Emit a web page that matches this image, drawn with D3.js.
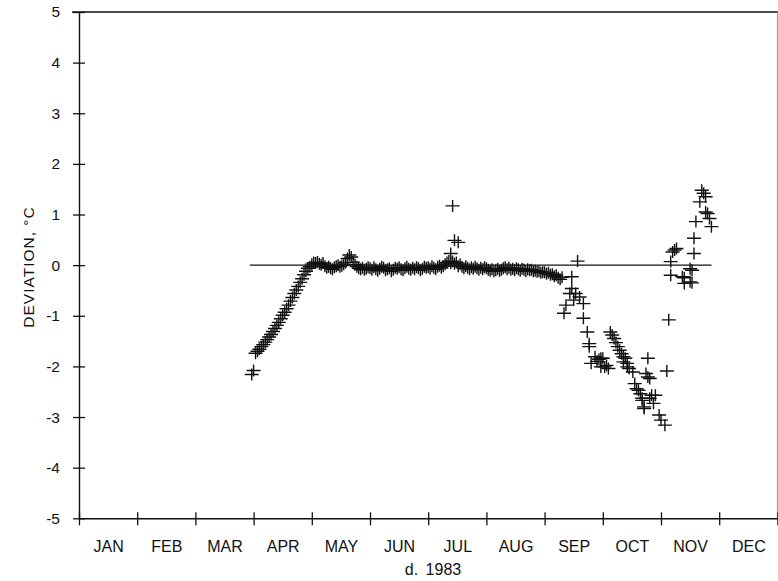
<!DOCTYPE html>
<html>
<head>
<meta charset="utf-8">
<script src="https://cdn.jsdelivr.net/npm/d3@7"></script>
<style>
  html, body { margin: 0; padding: 0; background: #fff; }
  svg { display: block; }
  text { font-family: "Liberation Sans", Arial, Helvetica, sans-serif; fill: #111; }
</style>
</head>
<body>
<svg id="chart" width="778" height="581"></svg>
<script>
// Month axis
const monthLabels = ["JAN", "FEB", "MAR", "APR", "MAY", "JUN", "JUL", "AUG", "SEP", "OCT", "NOV", "DEC"];
const monthLengths = [31, 28, 31, 30, 31, 30, 31, 31, 30, 31, 30, 31];
const yTicks = [-5, -4, -3, -2, -1, 0, 1, 2, 3, 4, 5];
const xTitle = "d. 1983";
const yTitle = "DEVIATION, °C";

// Daily deviations, [day of month, °C]
const mar = [[31, -2.16]];
const apr = [[1, -2.08], [2, -1.74], [3, -1.70], [4, -1.66], [5, -1.61], [6, -1.57], [7, -1.52], [8, -1.47],
  [9, -1.42], [10, -1.37], [11, -1.31], [12, -1.25], [13, -1.19], [14, -1.13], [15, -1.06], [16, -0.99],
  [17, -0.93], [18, -0.86], [19, -0.79], [20, -0.71], [21, -0.64], [22, -0.56], [23, -0.49], [24, -0.42],
  [25, -0.34], [26, -0.27], [27, -0.19], [28, -0.12], [29, -0.06], [30, -0.03]];
const may = [[1, 0.02], [2, 0.05], [3, 0.04], [4, 0.06], [5, 0.03], [6, 0.01], [7, 0.04], [8, -0.02],
  [9, -0.05], [10, -0.03], [11, -0.06], [12, -0.08], [13, -0.04], [14, -0.02], [15, 0.00], [16, -0.03],
  [17, -0.01], [18, 0.02], [19, 0.05], [20, 0.13], [21, 0.20], [22, 0.16], [23, 0.06], [24, 0.01],
  [25, -0.03], [26, -0.06], [27, -0.08], [28, -0.05], [29, -0.09], [30, -0.07], [31, -0.04]];
const jun = [[1, -0.06], [2, -0.09], [3, -0.04], [4, -0.08], [5, -0.11], [6, -0.07], [7, -0.03], [8, -0.05],
  [9, -0.10], [10, -0.08], [11, -0.06], [12, -0.12], [13, -0.09], [14, -0.05], [15, -0.07], [16, -0.04],
  [17, -0.08], [18, -0.10], [19, -0.06], [20, -0.03], [21, -0.07], [22, -0.09], [23, -0.05], [24, -0.08],
  [25, -0.04], [26, -0.06], [27, -0.10], [28, -0.07], [29, -0.03], [30, -0.05]];
const jul = [[1, -0.04], [2, -0.07], [3, -0.02], [4, -0.05], [5, -0.08], [6, -0.03], [7, -0.01], [8, -0.05],
  [9, -0.02], [10, 0.02], [11, 0.05], [12, 0.08], [13, 0.23], [13, 0.04], [14, 1.17], [14, 0.07],
  [15, 0.49], [15, 0.03], [16, 0.05], [17, 0.45], [17, -0.02], [18, 0.02], [19, -0.03], [20, -0.06],
  [21, -0.02], [22, -0.05], [23, -0.08], [24, -0.04], [25, -0.07], [26, -0.03], [27, -0.06], [28, -0.09],
  [29, -0.05], [30, -0.08], [31, -0.04]];
const aug = [[1, -0.06], [2, -0.09], [3, -0.11], [4, -0.08], [5, -0.12], [6, -0.10], [7, -0.07], [8, -0.11],
  [9, -0.09], [10, -0.06], [11, -0.04], [12, -0.08], [13, -0.05], [14, -0.09], [15, -0.07], [16, -0.10],
  [17, -0.06], [18, -0.08], [19, -0.11], [20, -0.07], [21, -0.09], [22, -0.12], [23, -0.08], [24, -0.10],
  [25, -0.09], [26, -0.12], [27, -0.11], [28, -0.13], [29, -0.12], [30, -0.15], [31, -0.14]];
const sep = [[1, -0.14], [2, -0.17], [3, -0.15], [4, -0.19], [5, -0.18], [6, -0.22], [7, -0.20], [8, -0.25],
  [9, -0.28], [10, -0.24], [11, -0.95], [12, -0.79], [14, -0.56], [15, -0.23], [15, -0.46], [16, -0.69],
  [17, -0.56], [18, 0.08], [19, -0.63], [21, -0.76], [21, -1.05], [23, -1.32], [24, -1.61], [24, -1.55],
  [25, -1.94], [27, -1.81], [28, -1.90], [29, -1.86], [30, -1.84], [30, -2.01]];
const oct = [[1, -1.84], [2, -2.01], [3, -1.98], [4, -2.04], [5, -1.32], [6, -1.38], [7, -1.45], [8, -1.53],
  [9, -1.61], [10, -1.68], [11, -1.75], [12, -1.81], [12, -1.91], [13, -1.84], [14, -1.94], [14, -2.01],
  [15, -2.04], [17, -2.11], [18, -2.34], [19, -2.44], [20, -2.47], [21, -2.54], [22, -2.67], [22, -2.63],
  [23, -2.80], [23, -2.83], [24, -2.14], [25, -2.21], [25, -1.84], [26, -2.24], [26, -2.63], [27, -2.57],
  [28, -2.73], [29, -2.57], [31, -2.96]];
const nov = [[1, -3.06], [3, -3.16], [4, -2.09], [5, -1.08], [6, -0.20], [6, 0.07], [7, 0.26], [8, 0.30],
  [9, 0.33], [12, -0.23], [13, -0.25], [13, -0.36], [16, -0.07], [16, -0.33], [17, -0.10], [17, -0.35],
  [18, 0.23], [18, 0.53], [19, 0.86], [21, 1.25], [22, 1.48], [23, 1.42], [24, 1.35], [24, 1.05],
  [25, 1.02], [26, 0.92], [27, 0.76]];

// Zero-deviation reference line: [month, day] span
const refStart = [3, 30];
const refEnd = [11, 27];
const refValue = 0;

// ---- drawing ----
const monthsData = [[3, mar], [4, apr], [5, may], [6, jun], [7, jul], [8, aug], [9, sep], [10, oct], [11, nov]];
const monthPos = (m, d) => (m - 1) + (d - 1) / monthLengths[m - 1];

const points = [];
monthsData.forEach(([m, arr]) => arr.forEach(([d, v]) => points.push({ t: monthPos(m, d), v })));

const plotLeft = 79, plotRight = 777.4, plotTop = 12, plotBottom = 518.3;
const x = d3.scaleLinear().domain([0, 12]).range([plotLeft, plotRight]);
const y = d3.scaleLinear().domain([-5, 5]).range([plotBottom, plotTop]);

const svg = d3.select("#chart");
const ink = "#111";
const fontStack = '"Liberation Sans", Arial, sans-serif';

// frame: top and right edges
svg.append("line").attr("x1", plotLeft - 7).attr("x2", 778).attr("y1", plotTop).attr("y2", plotTop)
  .attr("stroke", ink).attr("stroke-width", 1.3);
svg.append("line").attr("x1", plotRight).attr("x2", plotRight).attr("y1", plotTop).attr("y2", plotBottom)
  .attr("stroke", "#999").attr("stroke-width", 1);

// y axis (plain hyphen for negatives)
const yAxis = svg.append("g").attr("transform", `translate(${plotLeft},0)`)
  .call(d3.axisLeft(y).tickValues(yTicks).tickFormat(d => String(d))
    .tickSize(6).tickSizeOuter(0).tickPadding(13));
yAxis.select(".domain").attr("stroke", ink).attr("stroke-width", 1.4);
yAxis.selectAll(".tick line").attr("x1", -6).attr("x2", 6).attr("stroke", ink).attr("stroke-width", 1.3);
yAxis.selectAll(".tick text").attr("font-size", 15.5).attr("fill", ink)
  .style("font-family", fontStack);

// x axis: month boundaries
const xAxis = svg.append("g").attr("transform", `translate(0,${plotBottom})`)
  .call(d3.axisBottom(x).tickValues(d3.range(0, 13)).tickSize(7).tickSizeOuter(0).tickFormat(""));
xAxis.select(".domain").attr("stroke", ink).attr("stroke-width", 1.4);
xAxis.selectAll(".tick line").attr("y1", -6).attr("y2", 7).attr("stroke", ink).attr("stroke-width", 1.3);

// month labels centred between boundaries
const labelAxis = svg.append("g").attr("transform", `translate(0,${plotBottom})`)
  .call(d3.axisBottom(x).tickValues(monthLabels.map((_, i) => i + 0.5))
    .tickFormat((d, i) => monthLabels[i]).tickSize(0).tickPadding(22));
labelAxis.select(".domain").remove();
labelAxis.selectAll(".tick text").attr("font-size", 16).attr("fill", ink)
  .style("font-family", fontStack);

// axis titles
svg.append("text").attr("x", 433).attr("y", 575).attr("text-anchor", "middle")
  .attr("font-size", 16).attr("word-spacing", 3).text(xTitle);
svg.append("text").attr("transform", "translate(34,267) rotate(-90)").attr("text-anchor", "middle")
  .attr("font-size", 15.5).attr("letter-spacing", 1).text(yTitle);

// zero reference line
svg.append("line")
  .attr("x1", x(monthPos(...refStart))).attr("x2", x(monthPos(...refEnd)))
  .attr("y1", y(refValue)).attr("y2", y(refValue))
  .attr("stroke", ink).attr("stroke-width", 1.3);

// plus markers
svg.append("g").selectAll("path").data(points).join("path")
  .attr("transform", d => `translate(${x(d.t)},${y(d.v)})`)
  .attr("d", "M-7,0H7M0,-6V6")
  .attr("fill", "none").attr("stroke", ink).attr("stroke-width", 1.4);
</script>
</body>
</html>
